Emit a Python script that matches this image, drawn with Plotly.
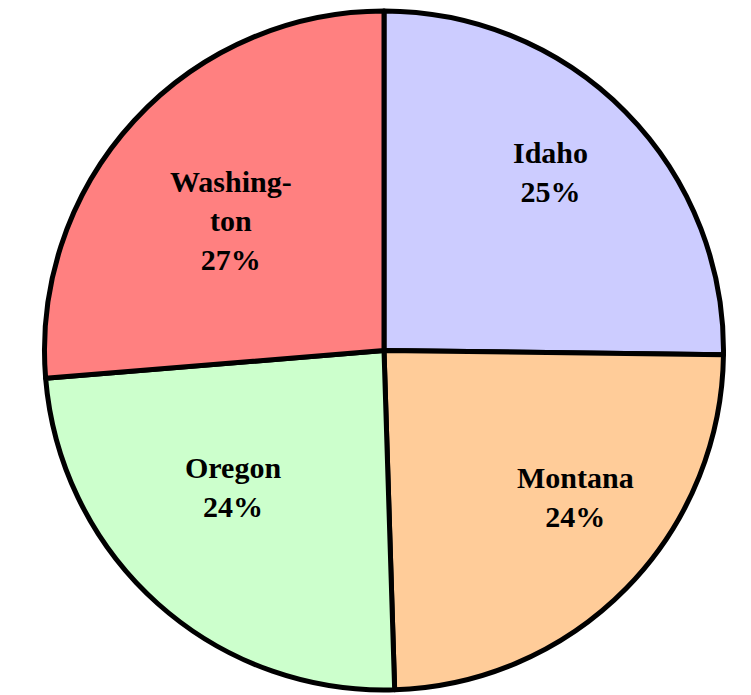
import plotly.graph_objects as go

# state shares (clockwise from 12 o'clock)
states = ["Idaho", "Montana", "Oregon", "Washington"]
display_names = ["Idaho", "Montana", "Oregon", "Washing-<br>ton"]
shares = [25.2, 24.3, 24.2, 26.3]
share_labels = ["25%", "24%", "24%", "27%"]
colors = ["#CCCCFF", "#FFCC99", "#CCFFCC", "#FF8080"]

# where each slice label sits, in paper fractions
label_pos = [(0.735, 0.763), (0.770, 0.284), (0.287, 0.299), (0.284, 0.692)]

fig = go.Figure(go.Pie(
    labels=states,
    values=shares,
    textinfo="none",
    sort=False,
    direction="clockwise",
    rotation=0,
    marker=dict(colors=colors, line=dict(color="black", width=5)),
    hoverinfo="label+percent",
    showlegend=False,
))

for name, pct, (x, y) in zip(display_names, share_labels, label_pos):
    fig.add_annotation(
        x=x, y=y, xref="paper", yref="paper",
        xanchor="center", yanchor="middle",
        text=f"<b>{name}<br>{pct}</b>",
        showarrow=False, align="center",
        font=dict(family="Liberation Serif", size=30, color="black"),
    )

fig.update_layout(
    width=751,
    height=695,
    margin=dict(l=21, r=20, t=3, b=13),
    paper_bgcolor="white",
    plot_bgcolor="white",
)

fig.write_html("out.html")
